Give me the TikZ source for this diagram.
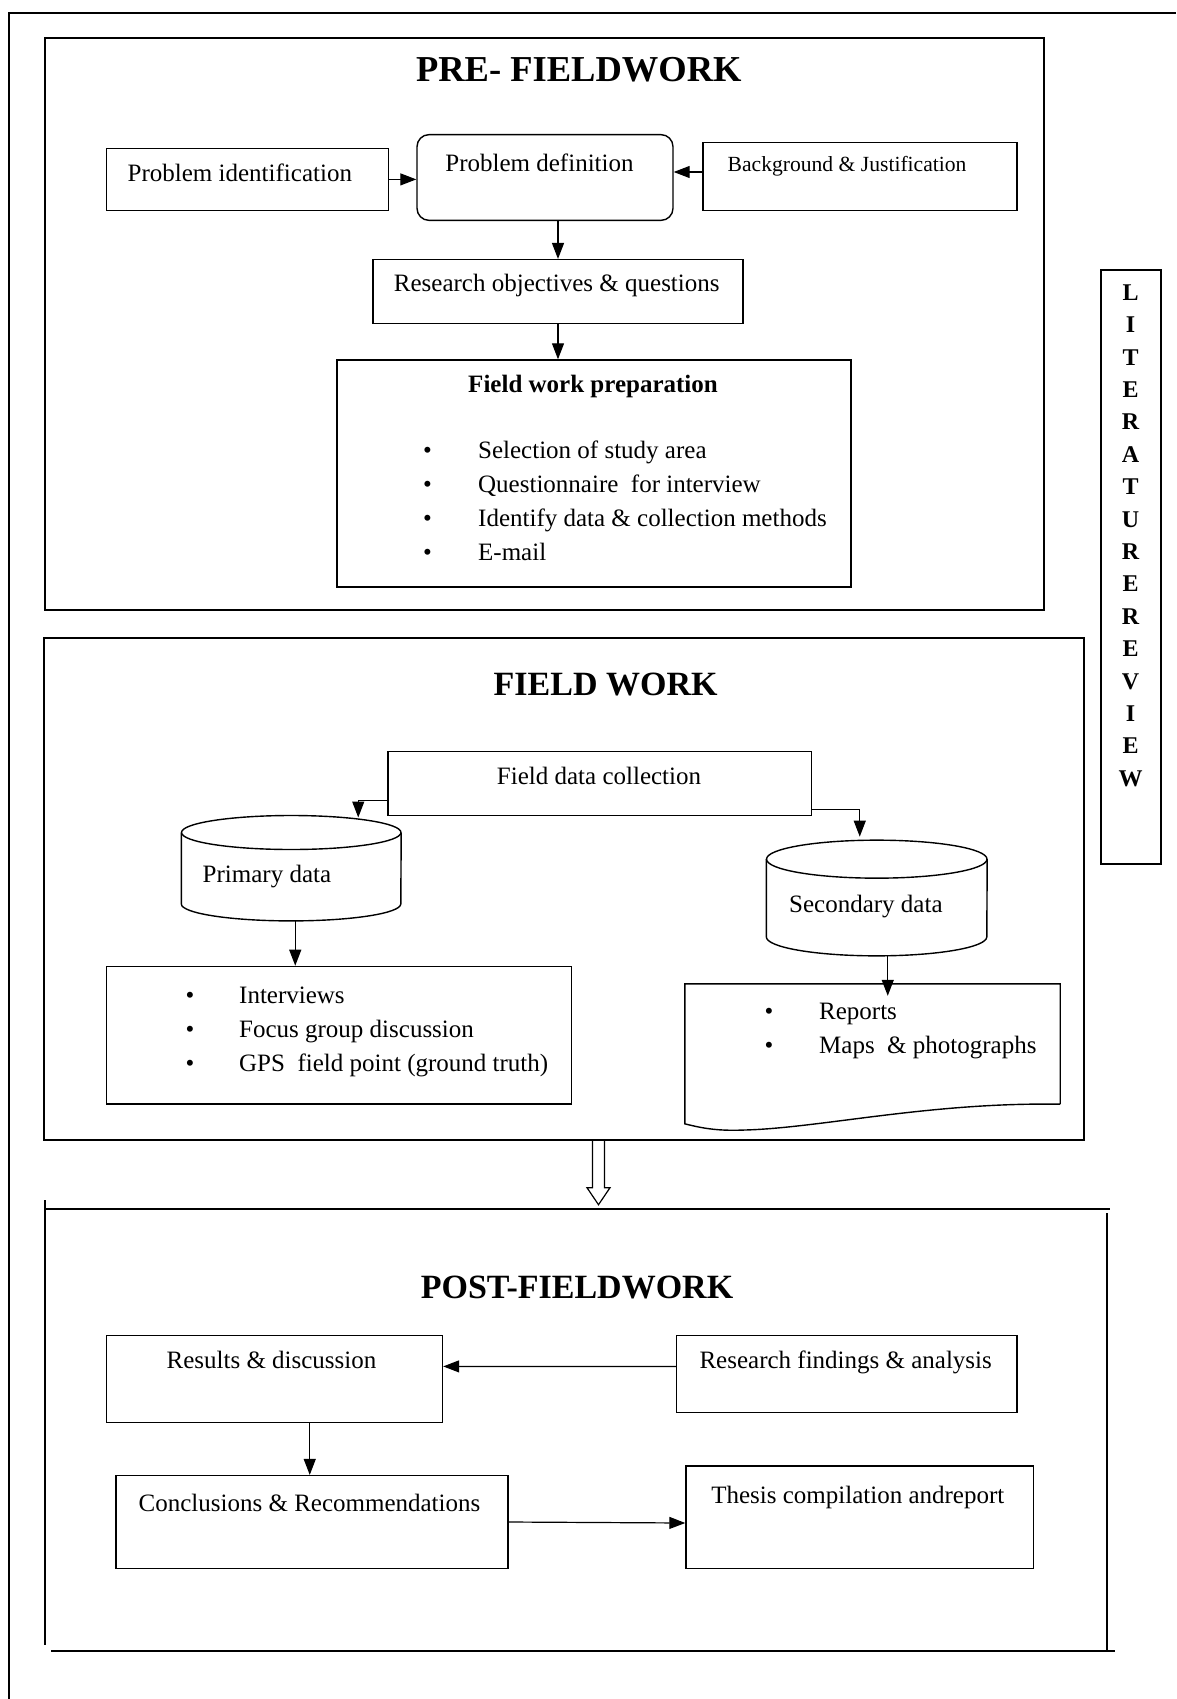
\documentclass[tikz,border=0pt]{standalone}
\usepackage{fontspec}
\setmainfont{Liberation Serif}
\usetikzlibrary{arrows.meta,calc}

\begin{document}
\begin{tikzpicture}[x=1pt,y=1pt,yscale=-1,
	box/.style={draw, line width=1.4pt, inner sep=0pt},
	lbl/.style={inner sep=0pt, font=\fontsize{25}{34}\selectfont},
	ttl/.style={inner sep=0pt, font=\fontsize{34}{40}\selectfont\bfseries},
	hold/.style={inner sep=0pt},
	arr/.style={line width=1.2pt, -{Triangle[length=16pt,width=12pt]}}]
	\useasboundingbox (0,0) rectangle (1176,1699);

	%Page frame
	\draw [line width=1.4pt] (9,1699) -- (9,13) -- (1176,13) ;

	%Shape: Rectangle [PRE- FIELDWORK]
	\node [box, minimum width=999pt, minimum height=572pt] (pre) at (544.5,324) {};
	\node [ttl, anchor=base, font=\fontsize{36.5}{40}\selectfont\bfseries] (pre-t) at (578.8,82) {PRE- FIELDWORK};

	% Text Node
	\node [box, minimum width=282pt, minimum height=61.6pt] (pid) at (247.5,179.4) {};
	\node [lbl, anchor=base west] (pid-t) at (127.5,181.6) {Problem identification};
	% Text Node
	\node [box, rounded corners=12pt, minimum width=256pt, minimum height=85.7pt] (pdef) at (545,177.5) {};
	\node [lbl, anchor=base] (pdef-t) at (539.5,171.5) {Problem definition};
	% Text Node
	\node [box, minimum width=314pt, minimum height=68pt] (bgj) at (860,176.5) {};
	\node [lbl, anchor=base west, font=\fontsize{21.6}{26}\selectfont] (bgj-t) at (727.5,171.4) {Background \& Justification};
	% Text Node
	\node [box, minimum width=370pt, minimum height=63.7pt] (roq) at (558,291.5) {};
	\node [lbl, anchor=base] (roq-t) at (556.75,291.8) {Research objectives \& questions};
	% Text Node
	\node [box, minimum width=514pt, minimum height=227pt] (fwp) at (594,473.5) {};
	\node [lbl, anchor=base, font=\fontsize{25}{34}\selectfont\bfseries] (fwp-t) at (593,392.6) {Field work preparation};
	\node [lbl, anchor=base west] (fwp-l) at (423,458) {\begin{tabular}[t]{@{}p{55pt}@{}l@{}}
		\textbullet & Selection of study area\\
		\textbullet & Questionnaire \ for interview\\
		\textbullet & Identify data \& collection methods\\
		\textbullet & E-mail
	\end{tabular}};

	% Connection
	\draw [arr] (pid.east) -- (pid.east -| pdef.west) ;
	% Connection
	\draw [arr] ($(bgj.west)+(0,-4.5)$) -- ($(pdef.east)+(0,-5.5)$) ;
	% Connection
	\draw [arr] (roq.north |- pdef.south) -- (roq.north) ;
	% Connection
	\draw [arr] (roq.south) -- (roq.south |- fwp.north) ;

	%Shape: Rectangle [LITERATURE REVIEW]
	\node [box, minimum width=60pt, minimum height=594pt] (lit) at (1131,567) {};
	\node [inner sep=0pt, align=center, font=\fontsize{24}{32.4}\selectfont\bfseries] (lit-t) at (1130.5,535.6)
		{L\\I\\T\\E\\R\\A\\T\\U\\R\\E\\R\\E\\V\\I\\E\\W};

	%Shape: Rectangle [FIELD WORK]
	\node [box, minimum width=1040pt, minimum height=502pt] (fw) at (564,889) {};
	\node [ttl, anchor=base] (fw-t) at (605.6,695.5) {FIELD WORK};

	% Text Node
	\node [box, minimum width=423.5pt, minimum height=64pt] (fdc) at (599.75,783.4) {};
	\node [lbl, anchor=base] (fdc-t) at (599,784) {Field data collection};

	%Shape: Can [Primary data]
	\node [hold, minimum width=219.5pt, minimum height=105pt] (prim) at (291.25,868.2) {};
	\draw [line width=1.4pt] ($(prim.north)+(0,17)$) ellipse [x radius=109.75, y radius=17] ;
	\draw [line width=1.4pt] ($(prim.north west)+(0,17)$) -- ($(prim.south west)+(0,-17)$)
		arc [start angle=180, end angle=0, x radius=109.75, y radius=17] -- ($(prim.north east)+(0,17)$) ;
	\node [lbl, anchor=base west] (prim-t) at (202.5,882) {Primary data};

	%Shape: Can [Secondary data]
	\node [hold, minimum width=220.5pt, minimum height=115.3pt] (sec) at (876.75,898) {};
	\draw [line width=1.4pt] ($(sec.north)+(0,19)$) ellipse [x radius=110.25, y radius=19] ;
	\draw [line width=1.4pt] ($(sec.north west)+(0,19)$) -- ($(sec.south west)+(0,-19)$)
		arc [start angle=180, end angle=0, x radius=110.25, y radius=19] -- ($(sec.north east)+(0,19)$) ;
	\node [lbl, anchor=base west] (sec-t) at (789,912) {Secondary data};

	% Text Node
	\node [box, minimum width=465pt, minimum height=137.6pt] (intv) at (339,1035.2) {};
	\node [lbl, anchor=base west] (intv-l) at (185.5,1003) {\begin{tabular}[t]{@{}p{53.5pt}@{}l@{}}
		\textbullet & Interviews\\
		\textbullet & Focus group discussion\\
		\textbullet & GPS \ field point (ground truth)
	\end{tabular}};

	%Shape: Document
	\node [hold, minimum width=375pt, minimum height=120pt] (doc) at (872.5,1044) {};
	\draw [line width=1.4pt] (doc.south east) -- (doc.north east) -- (doc.north west) -- ($(doc.south west)+(0,19.6)$)
		.. controls (705,1129) and (720,1131) .. (745,1130)
		.. controls (820,1128) and (930,1102) .. (doc.south east) ;
	\node [lbl, anchor=base west] (doc-l) at (764.5,1019) {\begin{tabular}[t]{@{}p{54.5pt}@{}l@{}}
		\textbullet & Reports\\
		\textbullet & Maps \ \& photographs
	\end{tabular}};

	% Connection
	\draw [arr] ($(fdc.south west)+(0,-16)$) -| ($(prim.north)+(67,2)$) ;
	% Connection
	\draw [arr] ($(fdc.south east)+(0,-6.4)$) -| ($(sec.north)+(-17,-3.5)$) ;
	% Connection
	\draw [arr] ($(prim.south)+(4,0)$) coordinate (prim-o) -- (prim-o |- intv.north) ;
	% Connection
	\draw [arr, shorten >=-12pt] ($(sec.south)+(11,0)$) coordinate (sec-o) -- (sec-o |- doc.north) ;

	%Hollow arrow [FIELD WORK to POST-FIELDWORK]
	\draw [line width=1.2pt] ($(fw.south)+(28.5,0)$) -- ++(0,47) -- ++(-5.5,0) -- ++(11.5,17)
		-- ++(11.5,-17) -- ++(-5.5,0) -- ++(0,-47) ;

	%Shape: Rectangle [POST-FIELDWORK]
	\draw [line width=1.4pt] (46,1209) -- (1110,1209) ;
	\draw [line width=1.4pt] (45,1200) -- (45,1645) ;
	\draw [line width=1.4pt] (1107,1213) -- (1107,1651) ;
	\draw [line width=1.4pt] (51,1651) -- (1115,1651) ;
	\node [ttl, anchor=base] (post-t) at (577,1298) {POST-FIELDWORK};

	% Text Node
	\node [box, minimum width=336pt, minimum height=86.8pt] (res) at (274.5,1379) {};
	\node [lbl, anchor=base] (res-t) at (271.5,1368) {Results \& discussion};
	% Text Node
	\node [box, minimum width=340.5pt, minimum height=77pt] (rfa) at (846.75,1374.1) {};
	\node [lbl, anchor=base] (rfa-t) at (845.7,1368) {Research findings \& analysis};
	% Text Node
	\node [box, minimum width=392pt, minimum height=92.8pt] (con) at (312,1522) {};
	\node [lbl, anchor=base] (con-t) at (309.5,1511.6) {Conclusions \& Recommendations};
	% Text Node
	\node [box, minimum width=347.5pt, minimum height=102.4pt] (the) at (859.75,1517.2) {};
	\node [lbl, anchor=base] (the-t) at (857.8,1503) {Thesis compilation andreport};

	% Connection
	\draw [arr] ($(rfa.west)+(0,-7.7)$) -- ($(res.east)+(0,-12.6)$) ;
	% Connection
	\draw [arr] ($(res.south)+(35.25,0)$) -- ($(con.north)+(-2.25,0)$) ;
	% Connection
	\draw [arr] (con.east) -- ($(the.west)+(0,5.8)$) ;

\end{tikzpicture}
\end{document}
